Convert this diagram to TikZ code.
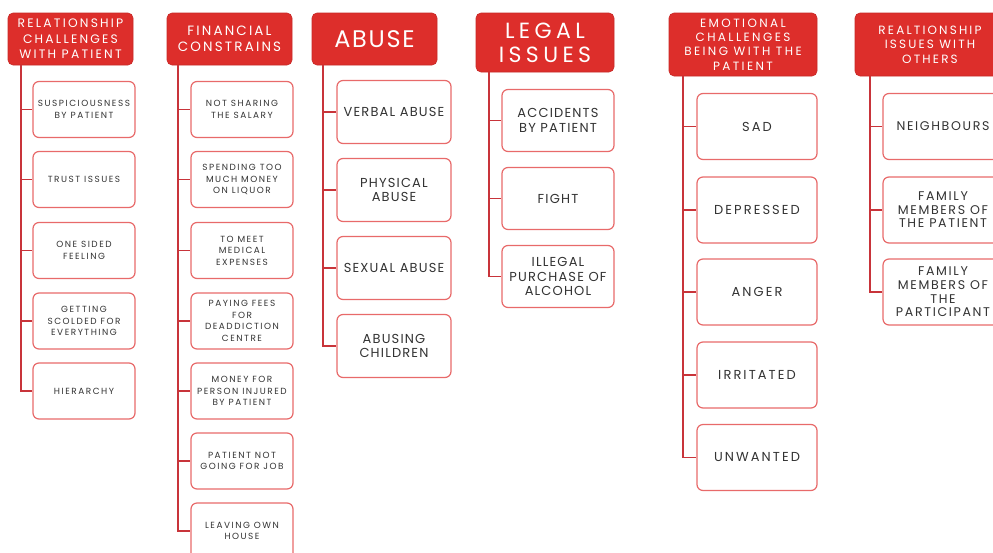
\documentclass[tikz,border=0pt]{standalone}
\usepackage{fontspec}
\setmainfont{Poppins}
\definecolor{headred}{HTML}{DD2E2B}
\definecolor{linered}{HTML}{C8343A}
\definecolor{boxred}{HTML}{E86A6A}
\definecolor{inktext}{HTML}{333333}
\newcommand{\tracked}[3]{\fontsize{#1}{#2}\selectfont\addfontfeature{LetterSpace=#3}}
\tikzset{
  head/.style={draw=headred!90!black, line width=0.6pt, fill=headred, rounded corners=5pt,
    text=white, align=center, inner sep=0pt, font=\tracked{12.3}{15.5}{18}},
  leaf/.style={draw=boxred, line width=1.2pt, fill=white, rounded corners=6pt,
    text=inktext, align=center, inner sep=0pt},
  small/.style={font=\tracked{8.9}{11.6}{17}},
  mid/.style={font=\tracked{13}{14.5}{9}},
  wide/.style={font=\tracked{13}{14}{16}},
  trunk/.style={draw=linered, line width=1.5pt},
}
\begin{document}
\begin{tikzpicture}[x=1pt,y=-1pt]
\clip (0,0) rectangle (993,552);
\fill[white] (0,0) rectangle (993,552);

% ---- Relationship challenges with patient
\node[head, minimum width=125, minimum height=52] (h1) at (70.5,39)
  {RELATIONSHIP\\CHALLENGES\\WITH PATIENT};
\coordinate (t1) at (21,65);
\foreach \n/\y/\t in {a/109.5/{SUSPICIOUSNESS\\BY PATIENT}, b/179.5/{TRUST ISSUES},
    c/250.5/{ONE SIDED\\FEELING}, d/321/{GETTING\\SCOLDED FOR\\EVERYTHING}, e/391/{HIERARCHY}}
  \node[leaf, small, minimum width=102, minimum height=56] (c1\n) at (84,\y) {\t};
\draw[trunk] (t1) |- (c1e.west);
\foreach \n in {a,b,c,d} \draw[trunk] (c1\n.west -| t1) -- (c1\n.west);

% ---- Financial constrains
\node[head, font=\tracked{13.5}{16.5}{16}, minimum width=125, minimum height=52] (h2) at (229.5,39)
  {FINANCIAL\\CONSTRAINS};
\coordinate (t2) at (178,65);
\foreach \n/\y/\t in {a/109.5/{NOT SHARING\\THE SALARY}, b/179.5/{SPENDING TOO\\MUCH MONEY\\ON LIQUOR},
    c/250.5/{TO MEET\\MEDICAL\\EXPENSES}, d/321/{PAYING FEES\\FOR\\DEADDICTION\\CENTRE},
    e/391/{MONEY FOR\\PERSON INJURED\\BY PATIENT}, f/461/{PATIENT NOT\\GOING FOR JOB},
    g/531/{LEAVING OWN\\HOUSE}}
  \node[leaf, small, minimum width=102, minimum height=56] (c2\n) at (242,\y) {\t};
\draw[trunk] (t2) |- (c2g.west);
\foreach \n in {a,b,c,d,e,f} \draw[trunk] (c2\n.west -| t2) -- (c2\n.west);

% ---- Abuse
\node[head, font=\tracked{24}{26}{7}, minimum width=125, minimum height=52] (h3) at (374.5,39)
  {ABUSE};
\coordinate (t3) at (323,65);
\foreach \n/\y/\t in {a/112/{VERBAL ABUSE}, b/190/{PHYSICAL\\ABUSE},
    c/268/{SEXUAL ABUSE}, d/346/{ABUSING\\CHILDREN}}
  \node[leaf, mid, minimum width=114, minimum height=63] (c3\n) at (394,\y) {\t};
\draw[trunk] (t3) |- (c3d.west);
\foreach \n in {a,b,c} \draw[trunk] (c3\n.west -| t3) -- (c3\n.west);

% ---- Legal issues
\node[head, font=\tracked{22}{24}{20}, minimum width=138, minimum height=59] (h4) at (545,42.5)
  {LEGAL\\ISSUES};
\coordinate (t4) at (489,72);
\foreach \n/\y/\t in {a/120.5/{ACCIDENTS\\BY PATIENT}, b/198.5/{FIGHT},
    c/276.5/{ILLEGAL\\PURCHASE OF\\ALCOHOL}}
  \node[leaf, mid, minimum width=112, minimum height=62] (c4\n) at (558,\y) {\t};
\draw[trunk] (t4) |- (c4c.west);
\foreach \n in {a,b} \draw[trunk] (c4\n.west -| t4) -- (c4\n.west);

% ---- Emotional challenges
\node[head, font=\tracked{12}{14.4}{20}, minimum width=148, minimum height=63] (h5) at (743,44.5)
  {EMOTIONAL\\CHALLENGES\\BEING WITH THE\\PATIENT};
\coordinate (t5) at (683,76);
\foreach \n/\y/\t in {a/126.5/{SAD}, b/210/{DEPRESSED}, c/292/{ANGER},
    d/375/{IRRITATED}, e/457.5/{UNWANTED}}
  \node[leaf, wide, minimum width=120, minimum height=66] (c5\n) at (757,\y) {\t};
\draw[trunk] (t5) |- (c5e.west);
\foreach \n in {a,b,c,d} \draw[trunk] (c5\n.west -| t5) -- (c5\n.west);

% ---- Relationship issues with others
\node[head, font=\tracked{12}{14.5}{18}, minimum width=150, minimum height=63] (h6) at (930,44.5)
  {REALTIONSHIP\\ISSUES WITH\\OTHERS};
\coordinate (t6) at (870,76);
\foreach \n/\y/\t in {a/126.5/{NEIGHBOURS}, b/210/{FAMILY\\MEMBERS OF\\THE PATIENT},
    c/292/{FAMILY\\MEMBERS OF\\THE\\PARTICIPANT}}
  \node[leaf, wide, font=\tracked{12.6}{13.6}{13}, minimum width=120, minimum height=66] (c6\n) at (943,\y) {\t};
\draw[trunk] (t6) |- (c6c.west);
\foreach \n in {a,b} \draw[trunk] (c6\n.west -| t6) -- (c6\n.west);
\end{tikzpicture}
\end{document}
